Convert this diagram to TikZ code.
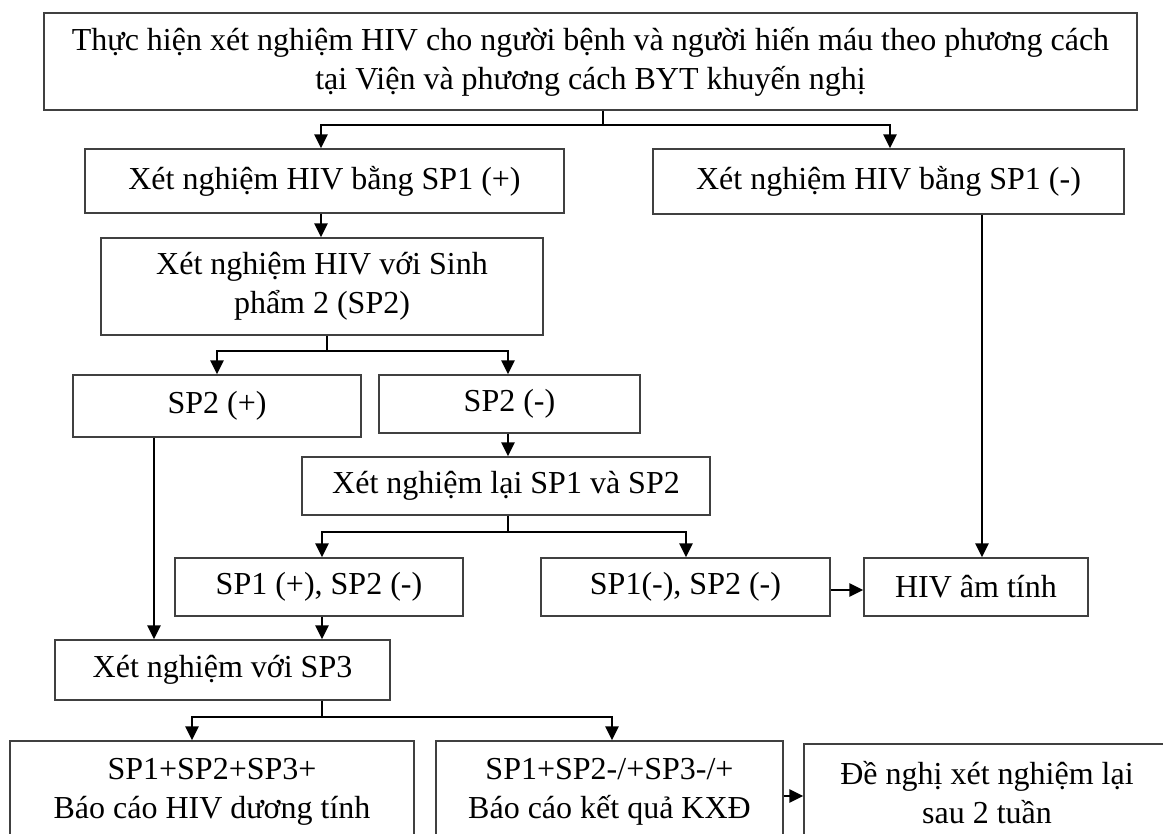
\documentclass[tikz,border=0pt]{standalone}
\usepackage{fontspec}
\setmainfont{Liberation Serif}
\usetikzlibrary{arrows.meta}
\begin{document}
\begin{tikzpicture}[x=1pt,y=-1pt,
  box/.style={draw=black!75, line width=1.3pt, inner sep=0pt, align=center,
    font=\fontsize{32}{39}\selectfont},
  stem/.style={draw=black, line width=1.3pt},
  conn/.style={draw=black, line width=2.4pt},
  arr/.style={draw=black, line width=2.4pt, -{Triangle[length=14pt,width=13pt]}}]
\useasboundingbox (0,0) rectangle (1163,834);
\clip (0,0) rectangle (1163,834);
% nodes
\node[box, minimum width=1093, minimum height=97] (top) at (590.5,61.5)
  {Thực hiện xét nghiệm HIV cho người bệnh và người hiến máu theo phương cách\\tại Viện và phương cách BYT khuyến nghị};
\node[box, minimum width=479, minimum height=64] (b1) at (324.5,181) {Xét nghiệm HIV bằng SP1 (+)};
\node[box, minimum width=471, minimum height=65] (b1n) at (888.5,181.5) {Xét nghiệm HIV bằng SP1 (-)};
\node[box, minimum width=442, minimum height=97] (b2) at (322,286.5) {Xét nghiệm HIV với Sinh\\phẩm 2 (SP2)};
\node[box, minimum width=288, minimum height=62] (sp2p) at (217,406) {SP2 (+)};
\node[box, minimum width=261, minimum height=58] (sp2n) at (509.5,404) {SP2 (-)};
\node[box, minimum width=408, minimum height=58] (retest) at (506,486) {Xét nghiệm lại SP1 và SP2};
\node[box, minimum width=288, minimum height=58] (r1) at (319,587) {SP1 (+), SP2 (-)};
\node[box, minimum width=289, minimum height=58] (r2) at (685.5,587) {SP1(-), SP2 (-)};
\node[box, minimum width=224, minimum height=58] (neg) at (976,587) {HIV âm tính};
\node[box, minimum width=335, minimum height=60] (sp3) at (222.5,670) {Xét nghiệm với SP3};
\node[box, minimum width=404, minimum height=102] (f1) at (212,792) {SP1+SP2+SP3+\\Báo cáo HIV dương tính};
\node[box, minimum width=347, minimum height=102] (f2) at (609.5,792) {SP1+SP2-/+SP3-/+\\Báo cáo kết quả KXĐ};
\node[box, minimum width=366, minimum height=98] (f3) at (987,793) {Đề nghị xét nghiệm lại\\sau 2 tuần};
% connectors
\draw[stem] (top.south -| 603,0) -- (603,125) coordinate (j1);
\draw[arr] (j1) -| (b1.north -| 321,0);
\draw[arr] (j1) -| (b1n.north -| 890,0);
\draw[arr] (b1.south -| 321,0) -- (b2.north -| 321,0);
\draw[arr] (b1n.south -| 982,0) -- (neg.north -| 982,0);
\draw[stem] (b2.south -| 327,0) -- (327,351) coordinate (j2);
\draw[arr] (j2) -| (sp2p.north -| 217,0);
\draw[arr] (j2) -| (sp2n.north -| 508,0);
\draw[arr] (sp2n.south -| 508,0) -- (retest.north -| 508,0);
\draw[stem] (retest.south -| 508,0) -- (508,532) coordinate (j3);
\draw[arr] (j3) -| (r1.north -| 322,0);
\draw[arr] (j3) -| (r2.north -| 686,0);
\draw[arr] (r2.east |- 0,590) -- (neg.west |- 0,590);
\draw[arr] (sp2p.south -| 154,0) -- (sp3.north -| 154,0);
\draw[arr] (r1.south -| 322,0) -- (sp3.north -| 322,0);
\draw[stem] (sp3.south -| 322,0) -- (322,717) coordinate (j4);
\draw[arr] (j4) -| (f1.north -| 192,0);
\draw[arr] (j4) -| (f2.north -| 612,0);
\draw[arr] (f2.east |- 0,796) -- (f3.west |- 0,796);
\end{tikzpicture}
\end{document}
